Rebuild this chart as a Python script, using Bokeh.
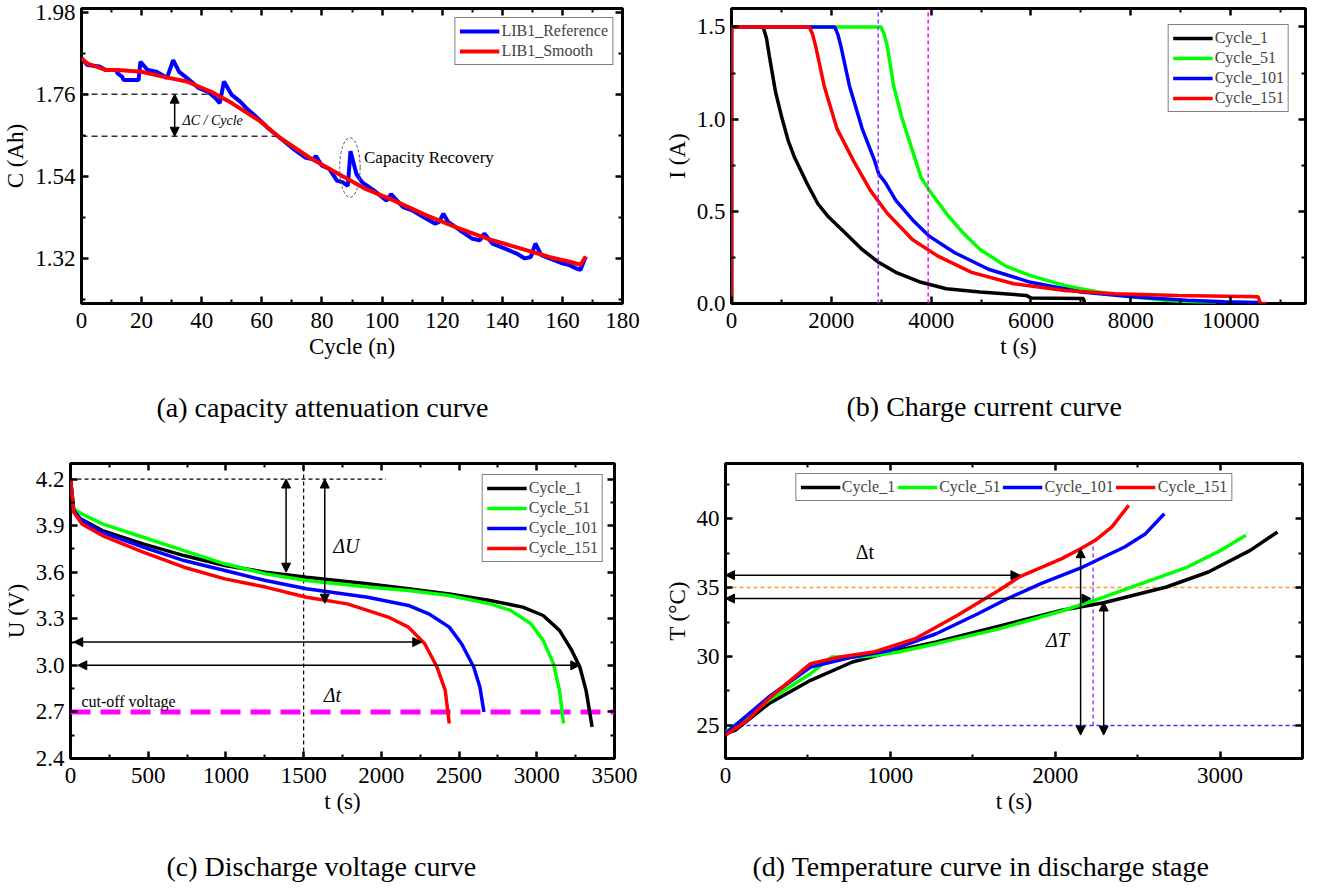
from bokeh.plotting import figure
from bokeh.layouts import column, row
from bokeh.models import (FixedTicker, LinearAxis, Range1d, Label, Arrow, NormalHead,
                          Legend, LegendItem, Title, PrintfTickFormatter)
from bokeh.embed import file_html
from bokeh.resources import INLINE

FONT = "Liberation Serif"

# ---------------- (a) capacity data ----------------
cyc_ref = [0, 2, 6, 8, 11.5, 12, 13.5, 14, 19, 19.6, 22, 25, 27, 28.4, 30.5, 32.5, 34.5, 36.5, 39, 42,
           44.6, 46, 47.4, 50, 52.8, 54.8, 58, 61, 62, 66, 70, 74.4, 77, 78, 80, 82.5, 85, 87, 88.6, 89.5,
           91.5, 93.4, 97.4, 101.5, 103, 105, 107, 110, 113.7, 117.7, 119, 120.4, 122, 126, 130, 132.6,
           134, 136.7, 140.7, 144.8, 147.5, 149.5, 151, 153, 157, 160, 162, 164.4, 166, 167.8]
cap_ref = [1.856, 1.838, 1.834, 1.825, 1.825, 1.816, 1.807, 1.798, 1.798, 1.847, 1.825, 1.82, 1.811, 1.803,
           1.851, 1.82, 1.807, 1.794, 1.776, 1.767, 1.749, 1.736, 1.794, 1.758, 1.74, 1.723, 1.70, 1.678,
           1.669, 1.643, 1.616, 1.59, 1.585, 1.594, 1.568, 1.559, 1.528, 1.523, 1.514, 1.607, 1.545, 1.523,
           1.501, 1.474, 1.492, 1.474, 1.457, 1.448, 1.43, 1.412, 1.417, 1.439, 1.417, 1.394, 1.372, 1.368,
           1.386, 1.359, 1.346, 1.332, 1.319, 1.323, 1.359, 1.328, 1.315, 1.306, 1.302, 1.293, 1.288, 1.324]
cyc_sm = [0, 2, 8, 12, 20, 27, 35, 43, 50, 59.5, 66, 75.8, 86.6, 94.7, 104, 115, 124.5, 135, 146, 155.6,
          162.4, 166, 167.8]
cap_sm = [1.856, 1.842, 1.825, 1.825, 1.82, 1.807, 1.794, 1.767, 1.736, 1.687, 1.643, 1.59, 1.541, 1.505,
          1.474, 1.434, 1.403, 1.372, 1.346, 1.323, 1.31, 1.302, 1.324]
a_xticks = [0, 20, 40, 60, 80, 100, 120, 140, 160, 180]
a_yticks = [1.32, 1.54, 1.76, 1.98]
a_dash_y = [1.76, 1.647]
a_dash_xend = [44.6, 66]
a_arrow_x = 31
a_ellipse = (89.3, 1.563, 6.8, 0.16)

# ---------------- (b) charge current data ----------------
b1_t = [0, 0, 633, 700, 760, 880, 1013, 1140, 1266, 1519, 1730, 1941, 2279, 2616, 2954, 3292, 3798, 4305,
        4980, 5908, 6000, 7005, 7050, 7080]
b1_i = [0, 1.5, 1.5, 1.44, 1.34, 1.15, 1.003, 0.88, 0.79, 0.648, 0.541, 0.47, 0.382, 0.293, 0.222, 0.169,
        0.115, 0.08, 0.062, 0.044, 0.03, 0.027, 0.027, 0.0]
b51_t = [0, 0, 2996, 3060, 3123, 3249, 3418, 3629, 3798, 3967, 4305, 4642, 4980, 5486, 5992, 6668, 7343,
         8018, 8693, 9200, 9706]
b51_i = [0, 1.5, 1.5, 1.46, 1.393, 1.18, 1.003, 0.825, 0.683, 0.612, 0.488, 0.382, 0.293, 0.204, 0.151,
         0.098, 0.062, 0.036, 0.018, 0.009, 0.0]
b101_t = [0, 0, 2068, 2130, 2194, 2363, 2616, 2870, 2954, 3080, 3292, 3629, 3967, 4473, 5149, 5992, 7005,
          8018, 9115, 9875, 10550, 10560]
b101_i = [0, 1.5, 1.5, 1.46, 1.393, 1.18, 0.95, 0.772, 0.70, 0.657, 0.559, 0.453, 0.364, 0.275, 0.186,
          0.115, 0.062, 0.036, 0.018, 0.009, 0.005, 0.0]
b151_t = [0, 0, 1561, 1625, 1688, 1857, 2110, 2448, 2785, 3123, 3629, 4136, 4811, 5655, 6668, 7681, 8946,
          10550, 10600, 10718]
b151_i = [0, 1.5, 1.5, 1.46, 1.393, 1.18, 0.95, 0.772, 0.612, 0.488, 0.346, 0.257, 0.169, 0.107, 0.071,
          0.053, 0.044, 0.036, 0.0, 0.0]
b_xticks = [0, 2000, 4000, 6000, 8000, 10000]
b_yticks = [0.0, 0.5, 1.0, 1.5]
b_vlines = [2940, 3940]

# ---------------- (c) discharge voltage data ----------------
c1_t = [0, 21, 47, 205, 467, 730, 993, 1255, 1518, 1912, 2174, 2437, 2700, 2910, 3041, 3146, 3225, 3277,
        3317, 3356]
c1_u = [4.2, 3.996, 3.954, 3.868, 3.782, 3.707, 3.643, 3.60, 3.568, 3.525, 3.493, 3.46, 3.418, 3.375,
        3.321, 3.225, 3.096, 2.989, 2.839, 2.603]
c51_t = [0, 21, 74, 205, 467, 730, 993, 1255, 1518, 1912, 2174, 2437, 2700, 2831, 2962, 3041, 3107, 3146,
         3172]
c51_u = [4.2, 4.007, 3.975, 3.911, 3.825, 3.739, 3.654, 3.589, 3.546, 3.504, 3.482, 3.45, 3.396, 3.354,
         3.268, 3.161, 3.011, 2.839, 2.625]
c101_t = [0, 21, 74, 205, 467, 730, 993, 1255, 1518, 1912, 2174, 2305, 2437, 2516, 2594, 2634, 2660]
c101_u = [4.2, 3.996, 3.932, 3.857, 3.761, 3.675, 3.611, 3.546, 3.493, 3.439, 3.386, 3.332, 3.246, 3.139,
          2.989, 2.861, 2.70]
c151_t = [0, 21, 74, 205, 467, 730, 993, 1255, 1518, 1781, 2044, 2174, 2279, 2358, 2411, 2437]
c151_u = [4.2, 3.986, 3.911, 3.836, 3.729, 3.632, 3.557, 3.504, 3.439, 3.396, 3.311, 3.246, 3.139, 2.989,
          2.839, 2.625]
c_xticks = [0, 500, 1000, 1500, 2000, 2500, 3000, 3500]
c_yticks = [2.4, 2.7, 3.0, 3.3, 3.6, 3.9, 4.2]
c_cutoff = 2.7
c_vline = 1500
c_top_dash = (4.2, 2030)
c_varrows = [(1387, 4.2, 3.60), (1636, 4.2, 3.40)]
c_harrows = [(3.15, 21, 2260), (3.0, 47, 3277)]

# ---------------- (d) temperature data ----------------
d1_t = [0, 58, 262, 516, 770, 998, 1278, 1659, 2040, 2294, 2675, 2929, 3183, 3348]
d1_T = [24.4, 24.64, 26.57, 28.27, 29.6, 30.32, 31.05, 32.2, 33.35, 33.9, 35.04, 36.13, 37.7, 39.03]
d51_t = [0, 262, 516, 643, 770, 897, 1049, 1278, 1659, 2040, 2294, 2548, 2802, 3005, 3157]
d51_T = [24.5, 26.82, 28.75, 29.96, 29.95, 30.05, 30.32, 30.93, 32.0, 33.3, 34.31, 35.4, 36.49, 37.7, 38.79]
d101_t = [0, 262, 516, 770, 998, 1278, 1531, 1709, 1913, 2167, 2421, 2548, 2662]
d101_T = [24.4, 27.06, 29.24, 29.96, 30.44, 31.65, 33.1, 34.19, 35.28, 36.49, 37.94, 38.91, 40.36]
d151_t = [0, 135, 262, 516, 693, 897, 1151, 1405, 1659, 1786, 2040, 2154, 2243, 2344, 2446]
d151_T = [24.28, 25.4, 26.94, 29.48, 29.96, 30.32, 31.29, 32.98, 34.8, 35.8, 37.1, 37.82, 38.43, 39.4, 40.97]
d_xticks = [0, 1000, 2000, 3000]
d_yticks = [25, 30, 35, 40]
d_hlines = [35, 25]
d_vline = (2230, 25, 38.06)
d_harrows = [(35.9, 0, 1786), (34.2, 0, 2217)]
d_varrows = [(2154, 37.82, 24.3), (2294, 33.95, 24.3)]

cycles = ["Cycle_1", "Cycle_51", "Cycle_101", "Cycle_151"]
colors = ["black", "#00ff00", "#0000ff", "#ff0000"]


def style(p, xt, xm, yt, ym, xlabel, ylabel, yfmt):
    p.outline_line_color = "black"
    p.outline_line_width = 3
    p.xgrid.visible = False
    p.ygrid.visible = False
    bx = p.below[0]
    ly = p.left[0]
    bx.ticker = FixedTicker(ticks=xt, minor_ticks=xm)
    ly.ticker = FixedTicker(ticks=yt, minor_ticks=ym)
    ly.formatter = PrintfTickFormatter(format=yfmt)
    bx.axis_label = xlabel
    ly.axis_label = ylabel
    mx = LinearAxis(ticker=FixedTicker(ticks=xt, minor_ticks=xm))
    my = LinearAxis(ticker=FixedTicker(ticks=yt, minor_ticks=ym))
    p.add_layout(mx, "above")
    p.add_layout(my, "right")
    for ax in (bx, ly, mx, my):
        ax.axis_line_color = None
        ax.major_tick_in = 7
        ax.major_tick_out = 0
        ax.major_tick_line_width = 2.5
        ax.minor_tick_in = 4
        ax.minor_tick_out = 0
        ax.minor_tick_line_width = 2
    for ax in (bx, ly):
        ax.major_label_text_font = FONT
        ax.major_label_text_font_size = "23px"
        ax.major_label_text_color = "black"
        ax.axis_label_text_font = FONT
        ax.axis_label_text_font_size = "23px"
        ax.axis_label_text_font_style = "normal"
        ax.axis_label_text_color = "black"
    bx.major_label_standoff = 9
    bx.axis_label_standoff = 3
    ly.major_label_standoff = 6
    ly.axis_label_standoff = 4
    for ax in (mx, my):
        ax.major_label_text_font_size = "1px"
        ax.major_label_text_color = None
        ax.major_label_standoff = 0


def caption(p, gap, offset, text, x0):
    # spacer axis: one invisible tick whose outward length reserves room above the caption
    p.add_layout(LinearAxis(ticker=FixedTicker(ticks=[x0], minor_ticks=[]), axis_line_color=None,
                            major_tick_out=gap, major_tick_in=0, major_tick_line_color=None,
                            minor_tick_out=0, minor_tick_in=0, major_label_standoff=0,
                            major_label_text_font_size="1px", major_label_text_color=None), "below")
    p.add_layout(Title(text=text, align="left", offset=offset, standoff=0, vertical_align="middle",
                       text_font=FONT, text_font_size="28px", text_font_style="normal",
                       text_color="black"), "below")


def legend(p, items, loc, margin, orientation="vertical"):
    lg = Legend(items=items, location=loc, margin=margin, orientation=orientation,
                label_text_font=FONT, label_text_font_size="16px", glyph_width=40, glyph_height=18,
                label_height=18, spacing=2, padding=4, label_standoff=2,
                border_line_color="black", border_line_width=1.5, background_fill_alpha=1)
    p.add_layout(lg)


def darrow(p, x0, y0, x1, y1):
    p.add_layout(Arrow(start=NormalHead(size=9, fill_color="black", line_color="black"),
                       end=NormalHead(size=9, fill_color="black", line_color="black"),
                       x_start=x0, y_start=y0, x_end=x1, y_end=y1, line_width=1.5, line_color="black"))


def txt(p, x, y, text, size="16px", style_="normal", align="left"):
    p.add_layout(Label(x=x, y=y, text=text, text_font=FONT, text_font_size=size, text_font_style=style_,
                       text_align=align, text_baseline="middle", text_color="black"))


common = dict(output_backend="svg", toolbar_location=None)

# ===== (a) =====
pa = figure(width=661, height=444, x_range=Range1d(0, 180), y_range=Range1d(1.198, 1.99),
            min_border_left=80, min_border_right=39, min_border_top=8, min_border_bottom=141, **common)
style(pa, a_xticks, [10, 30, 50, 70, 90, 110, 130, 150, 170], a_yticks, [1.21, 1.43, 1.65, 1.87],
      "Cycle (n)", "C (Ah)", "%.2f")
for yv, xe in zip(a_dash_y, a_dash_xend):
    pa.line([0, xe], [yv, yv], line_color="#333333", line_dash="6 4", line_width=1.5)
darrow(pa, a_arrow_x, a_dash_y[0], a_arrow_x, a_dash_y[1])
txt(pa, 33.6, 1.69, "\u0394C / Cycle", size="14px", style_="italic")
ra = pa.line(cyc_ref, cap_ref, line_color="#0000ff", line_width=4)
rb = pa.line(cyc_sm, cap_sm, line_color="#ff0000", line_width=4)
pa.ellipse(x=a_ellipse[0], y=a_ellipse[1], width=a_ellipse[2], height=a_ellipse[3], fill_color=None,
           line_color="#555555", line_dash="3 2", line_width=1)
txt(pa, 94, 1.59, "Capacity Recovery", size="17px")
legend(pa, [LegendItem(label="LIB1_Reference", renderers=[ra]),
            LegendItem(label="LIB1_Smooth", renderers=[rb])], "top_right", 9)
caption(pa, 29, 75, "(a) capacity attenuation curve", 90)

# ===== (b) =====
pb = figure(width=662, height=444, x_range=Range1d(0, 11500), y_range=Range1d(0, 1.6),
            min_border_left=69, min_border_right=18, min_border_top=4, min_border_bottom=139, **common)
style(pb, b_xticks, [1000, 3000, 5000, 7000, 9000, 11000], b_yticks, [0.25, 0.75, 1.25],
      "t (s)", "I (A)", "%.1f")
rs = []
for tt, ii, c in zip([b1_t, b51_t, b101_t, b151_t], [b1_i, b51_i, b101_i, b151_i], colors):
    rs.append(pb.line(tt, ii, line_color=c, line_width=3.5))
pb.line([b_vlines[0]] * 2, [0, 1.6], line_color="#9933ff", line_dash="4 3", line_width=1.5)
pb.line([b_vlines[1]] * 2, [0, 1.6], line_color="#ff00ff", line_dash="4 3", line_width=1.5)
legend(pb, [LegendItem(label=l, renderers=[r]) for l, r in zip(cycles, rs)], "top_right", 16)
caption(pb, 28, 115, "(b) Charge current curve", 5000)

# ===== (c) =====
pc = figure(width=661, height=444, x_range=Range1d(0, 3500), y_range=Range1d(2.4, 4.3),
            min_border_left=70, min_border_right=47, min_border_top=19, min_border_bottom=130, **common)
style(pc, c_xticks, [250, 750, 1250, 1750, 2250, 2750, 3250], c_yticks,
      [2.55, 2.85, 3.15, 3.45, 3.75, 4.05], "t (s)", "U (V)", "%.1f")
pc.line([0, 3500], [c_cutoff, c_cutoff], line_color="#ff00ff", line_dash="20 10", line_width=5)
pc.line([0, c_top_dash[1]], [c_top_dash[0]] * 2, line_color="black", line_dash="4 3", line_width=1.2)
pc.line([c_vline] * 2, [2.4, 4.3], line_color="black", line_dash="4 3", line_width=1.2)
rs = []
for tt, uu, c in zip([c1_t, c51_t, c101_t, c151_t], [c1_u, c51_u, c101_u, c151_u], colors):
    rs.append(pc.line(tt, uu, line_color=c, line_width=3.5))
for x, y0, y1 in c_varrows:
    darrow(pc, x, y0, x, y1)
for y, x0, x1 in c_harrows:
    darrow(pc, x0, y, x1, y)
txt(pc, 1690, 3.77, "\u0394U", size="20px", style_="italic")
txt(pc, 1630, 2.81, "\u0394t", size="20px", style_="italic")
txt(pc, 70, 2.765, "cut-off voltage", size="16px")
legend(pc, [LegendItem(label=l, renderers=[r]) for l, r in zip(cycles, rs)], "top_right", 11)
caption(pc, 33, 96, "(c) Discharge voltage curve", 1750)

# ===== (d) =====
pd_ = figure(width=662, height=444, x_range=Range1d(0, 3500), y_range=Range1d(22.6, 44.0),
             min_border_left=61, min_border_right=21, min_border_top=19, min_border_bottom=130, **common)
style(pd_, d_xticks, [500, 1500, 2500, 3500], d_yticks, [27.5, 32.5, 37.5, 42.5], "t (s)", "T (\u00b0C)",
      "%d")
pd_.line([0, 3500], [d_hlines[0]] * 2, line_color="#ff9933", line_dash="4 3", line_width=1.5)
pd_.line([0, 3500], [d_hlines[1]] * 2, line_color="#3333ff", line_dash="4 3", line_width=1.5)
pd_.line([d_vline[0]] * 2, [d_vline[1], d_vline[2]], line_color="#a040ff", line_dash="4 3", line_width=1.5)
rs = []
for tt, TT, c in zip([d1_t, d51_t, d101_t, d151_t], [d1_T, d51_T, d101_T, d151_T], colors):
    rs.append(pd_.line(tt, TT, line_color=c, line_width=3.5))
for y, x0, x1 in d_harrows:
    darrow(pd_, x0, y, x1, y)
for x, y0, y1 in d_varrows:
    darrow(pd_, x, y0, x, y1)
txt(pd_, 846, 37.6, "\u0394t", size="20px", align="center")
txt(pd_, 2014, 31.2, "\u0394T", size="20px", style_="italic", align="center")
legend(pd_, [LegendItem(label=l, renderers=[r]) for l, r in zip(cycles, rs)], "top_center", 10,
       orientation="horizontal")
caption(pd_, 33, 27, "(d) Temperature curve in discharge stage", 1750)

layout = column(row(pa, pb), row(pc, pd_))
open("out.html", "w").write(file_html(layout, INLINE))
